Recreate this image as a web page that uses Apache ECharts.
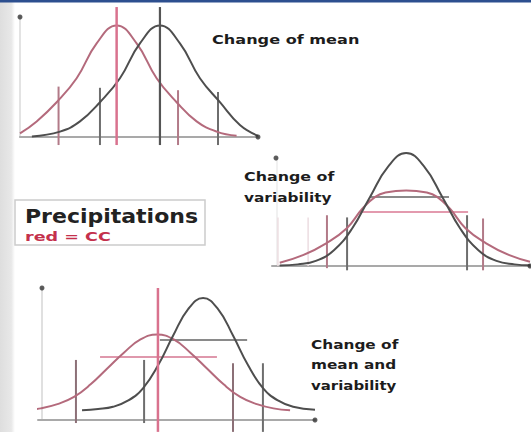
<!DOCTYPE html>
<html><head><meta charset="utf-8">
<script src="https://cdn.jsdelivr.net/npm/echarts@6/dist/echarts.min.js"></script>
<style>html,body{margin:0;padding:0;background:#fff}#c{width:531px;height:432px}</style>
</head><body><div id="c"></div>
<script>
// ---------- Panel 1: change of mean (x: 0..100, y: relative frequency) ----------
const p1RedCurve = [[0,0.03],[7,0.13],[15.4,0.29],[23.8,0.49],[32.2,0.78],[40.6,0.93],[49,0.78],[57.4,0.49],[65.8,0.29],[74.2,0.13],[82.6,0.045],[91,0.01]];
const p1BlackCurve = [[5,0.005],[16.8,0.045],[25.2,0.13],[33.6,0.29],[42,0.49],[50.4,0.78],[58.8,0.93],[67.2,0.78],[75.6,0.49],[84,0.29],[92.4,0.1],[100,0.01]];
const p1RedMeans = [[40.6,1.083,-0.067]];
const p1BlackMeans = [[58.8,1.083,-0.067]];
const p1RedTicks = [[16.2,0.42,-0.067],[66.4,0.39,-0.067]];
const p1BlackTicks = [[33.6,0.41,-0.067],[83.2,0.375,-0.067]];

// ---------- Panel 2: change of variability ----------
const p2BlackCurve = [[3,0.005],[10,0.015],[17,0.047],[24,0.146],[31,0.345],[38,0.64],[45,0.92],[52,1.046],[59,0.92],[66,0.64],[73,0.345],[80,0.146],[87,0.047],[94,0.015],[100,0.006]];
const p2RedCurve = [[3,0.03],[12,0.1],[21,0.21],[29,0.35],[35,0.53],[40,0.64],[44,0.68],[52,0.70],[60,0.68],[64,0.64],[69,0.53],[75,0.35],[83,0.21],[92,0.1],[100,0.04]];
const p2RedTicks = [[21.3,0.47,-0.02],[81.8,0.44,-0.04]];
const p2BlackTicks = [[29.1,0.45,-0.04],[75.6,0.47,-0.04]];
const p2BlackLevels = [[38,68.6,0.64]];
const p2RedLevels = [[34.1,76,0.50]];
const p2Guides = [[2.3,0.45,0],[14,0.45,0]];

// ---------- Panel 3: change of mean and variability ----------
const p3BlackCurve = [[15.9,0.074],[21.7,0.083],[27.1,0.10],[32.6,0.148],[37.9,0.24],[43.4,0.416],[48.8,0.64],[54.2,0.84],[59.6,0.924],[65,0.84],[70.4,0.64],[75.8,0.416],[81.3,0.24],[86.6,0.148],[92.1,0.10],[100,0.078]];
const p3RedCurve = [[-4.7,0.074],[1,0.088],[7,0.12],[13,0.175],[19,0.27],[25,0.39],[31,0.51],[37,0.61],[43,0.647],[49,0.61],[55,0.51],[61,0.39],[67,0.27],[73,0.175],[79,0.12],[85,0.088],[91,0.074]];
const p3RedMeans = [[43.3,1.0,-0.09]];
const p3RedTicks = [[13.7,0.455,-0.023],[70.4,0.43,-0.09]];
const p3BlackTicks = [[38.3,0.455,-0.023],[81.2,0.43,-0.09]];
const p3BlackLevels = [[44,75.5,0.606]];
const p3RedLevels = [[22.4,64.6,0.477]];

// axis end dots [x, y] per panel
const p1Dots = [[0,1],[100,0]];
const p2Dots = [[1.55,1],[100,0]];
const p3Dots = [[1.44,1],[100,0]];

// ---------- styling ----------
const RED_CURVE = '#b46a7c';
const BLACK_CURVE = '#4e4e4e';
const RED_MEAN = '#d9728e';
const BLACK_MEAN = '#555555';
const RED_TICK = '#b27a88';
const BLACK_TICK = '#6e6e6e';

const series = [];
function curve(i, data, color, w) {
  series.push({type:'line', xAxisIndex:i, yAxisIndex:i, data, smooth:0.45, symbol:'none',
    clip:false, silent:true, lineStyle:{color, width:w}, z:3});
}
function verticals(i, arr, color, w, z) {
  arr.forEach(v => series.push({type:'line', xAxisIndex:i, yAxisIndex:i,
    data:[[v[0],v[1]],[v[0],v[2]]], symbol:'none', clip:false, silent:true,
    lineStyle:{color, width:w}, z:z||2}));
}
function levels(i, arr, color, w) {
  arr.forEach(v => series.push({type:'line', xAxisIndex:i, yAxisIndex:i,
    data:[[v[0],v[2]],[v[1],v[2]]], symbol:'none', clip:false, silent:true,
    lineStyle:{color, width:w}, z:2}));
}
function dots(i, arr) {
  series.push({type:'scatter', xAxisIndex:i, yAxisIndex:i, data:arr, symbolSize:5,
    clip:false, silent:true, itemStyle:{color:'#333'}, z:4});
}

// panel 1
verticals(0, p1RedTicks, RED_TICK, 2);
verticals(0, p1BlackTicks, BLACK_TICK, 2);
curve(0, p1RedCurve, RED_CURVE, 2);
curve(0, p1BlackCurve, BLACK_CURVE, 2);
verticals(0, p1RedMeans, RED_MEAN, 2.5, 4);
verticals(0, p1BlackMeans, BLACK_MEAN, 2.2, 4);
dots(0, p1Dots);
// panel 2
verticals(1, p2Guides, '#ecdde1', 1.5, 1);
levels(1, p2RedLevels, '#e39aae', 2);
levels(1, p2BlackLevels, '#8a8a8a', 2);
verticals(1, p2RedTicks, RED_TICK, 2);
verticals(1, p2BlackTicks, BLACK_TICK, 2);
curve(1, p2RedCurve, RED_CURVE, 2);
curve(1, p2BlackCurve, BLACK_CURVE, 2);
dots(1, p2Dots);
// panel 3
levels(2, p3RedLevels, '#df98ac', 2);
levels(2, p3BlackLevels, '#8a8a8a', 2);
verticals(2, p3RedTicks, '#8c7077', 2);
verticals(2, p3BlackTicks, BLACK_TICK, 2);
curve(2, p3RedCurve, RED_CURVE, 2);
curve(2, p3BlackCurve, BLACK_CURVE, 2);
verticals(2, p3RedMeans, RED_MEAN, 2.5, 4);
dots(2, p3Dots);

function xAx(i, color) {
  return {type:'value', gridIndex:i, min:-0.0001 + 0.0001, max:100, splitLine:{show:false},
    axisTick:{show:false}, axisLabel:{show:false},
    axisLine:{show:true, onZero:false, lineStyle:{color, width:2}}};
}
function yAx(i, color, off) {
  return {type:'value', gridIndex:i, min:0, max:1, offset:off, splitLine:{show:false},
    axisTick:{show:false}, axisLabel:{show:false},
    axisLine:{show:true, onZero:false, lineStyle:{color, width:1.5}}};
}

const TF = '"DejaVu Sans", "Liberation Sans", sans-serif';
function label(text, x, y, size, sx, fill) {
  return {type:'text', x, y, scaleX:sx, z:10,
    style:{text, x:0, y:0, font:'bold ' + size + 'px ' + TF, fill, textAlign:'left', textVerticalAlign:'middle'}};
}

const option = {
  backgroundColor:'#ffffff',
  animation:false,
  grid:[
    {left:20, top:17, width:238, height:120},
    {left:272, top:158, width:258, height:108},
    {left:38, top:288, width:277, height:132}
  ],
  xAxis:[xAx(0,'#a9a9a9'), xAx(1,'#a9a9a9'), xAx(2,'#a9a9a9')],
  yAxis:[yAx(0,'#dadada',0), yAx(1,'#ececec',-5), yAx(2,'#d6d6d6',-4)],
  series,
  graphic:[
    {type:'rect', z:-1, shape:{x:0,y:0,width:15,height:432},
      style:{fill:new echarts.graphic.LinearGradient(0,0,1,0,[{offset:0,color:'#dedede'},{offset:0.75,color:'#e8e8e8'},{offset:1,color:'#ffffff'}])}},
    {type:'rect', z:9, shape:{x:0,y:0,width:531,height:2.5}, style:{fill:'#2d4f8f'}},
    {type:'rect', z:8, shape:{x:15,y:200,width:190,height:45}, style:{fill:'#ffffff', stroke:'#cccccc', lineWidth:1.5}},
    label('Precipitations', 25, 216, 20, 1.1, '#222222'),
    label('red = CC', 25, 237, 13, 1.35, '#c4304c'),
    label('Change of mean', 212, 39, 13, 1.24, '#1c1c1c'),
    label('Change of', 244, 177, 13, 1.22, '#1c1c1c'),
    label('variability', 244, 197, 13, 1.18, '#1c1c1c'),
    label('Change of', 311, 344, 13, 1.18, '#1c1c1c'),
    label('mean and', 311, 364, 13, 1.18, '#1c1c1c'),
    label('variability', 311, 385, 13, 1.15, '#1c1c1c')
  ]
};
const chart = echarts.init(document.getElementById('c'), null, {renderer:'svg'});
chart.setOption(option);
</script></body></html>
